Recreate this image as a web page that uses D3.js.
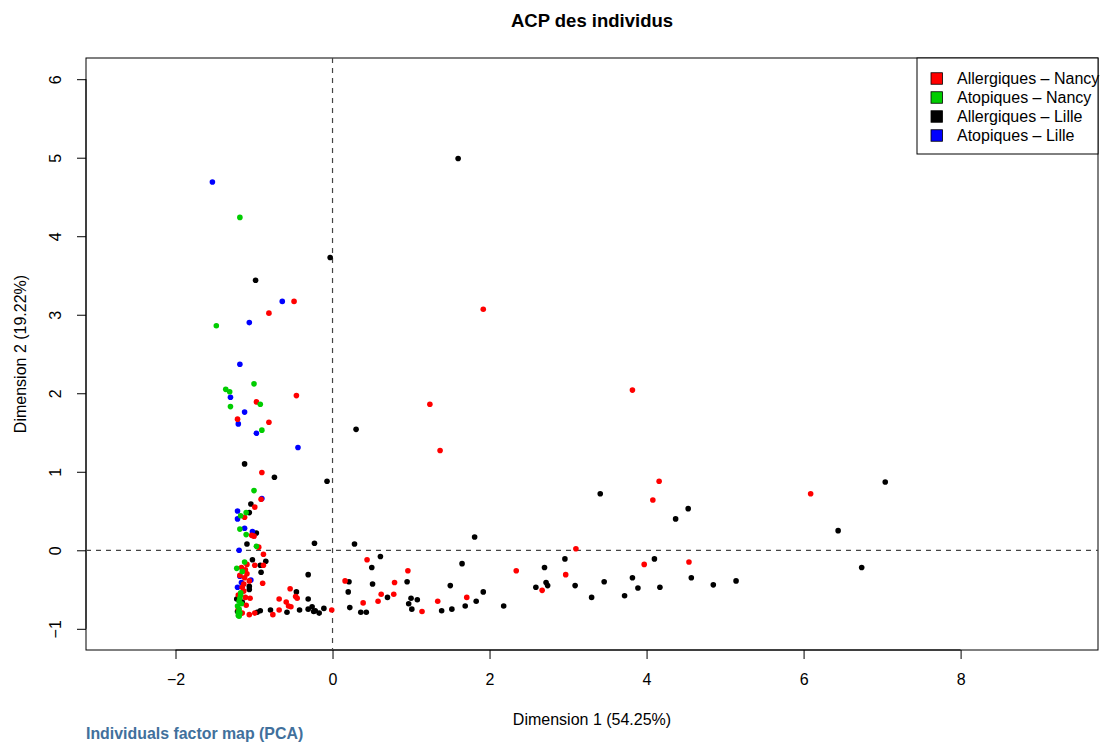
<!DOCTYPE html>
<html>
<head>
<meta charset="utf-8">
<script src="https://cdn.jsdelivr.net/npm/d3@7"></script>
<style>
  body { margin: 0; background: #fff; }
  svg { font-family: "Liberation Sans", Arial, sans-serif; }
</style>
</head>
<body>
<svg></svg>
<script>
// Define variables
const width = 1101;
const height = 744;
const plot = { left: 86, right: 1098, top: 58, bottom: 650 };

// Data: PCA coordinates (Dim 1, Dim 2)
const allergNancy = [
  [-0.49, 3.17], [-0.81, 3.02], [-0.46, 1.97], [-0.97, 1.89], [-1.21, 1.67], [-0.81, 1.63],
  [-0.90, 0.99], [-0.91, 0.65], [-0.99, 0.55], [-1.12, 0.42], [-1.03, 0.19], [-1.00, 0.18],
  [-0.94, 0.04], [-0.88, -0.05], [-1.09, -0.18], [-0.88, -0.19], [-0.99, -0.19], [-1.16, -0.22],
  [-1.11, -0.25], [-1.09, -0.30], [-1.18, -0.32], [-1.12, -0.35], [-1.06, -0.39], [-0.89, -0.42],
  [-1.13, -0.43], [-1.15, -0.47], [-1.13, -0.52], [-0.54, -0.49], [-0.45, -0.61], [-0.47, -0.59],
  [-1.20, -0.57], [-1.11, -0.60], [-1.05, -0.61], [-0.68, -0.62], [-0.59, -0.66], [-0.56, -0.71],
  [-0.53, -0.72], [-1.10, -0.70], [-1.20, -0.75], [-0.68, -0.76], [-1.15, -0.80], [-1.06, -0.82],
  [-0.99, -0.80], [-0.76, -0.82], [-0.01, -0.76],
  [1.92, 3.07], [3.82, 2.04], [1.24, 1.86], [1.37, 1.27], [4.16, 0.88], [4.08, 0.64],
  [6.09, 0.72], [3.97, -0.18], [4.54, -0.15], [3.10, 0.02], [0.44, -0.12], [0.16, -0.39],
  [0.96, -0.26], [0.79, -0.41], [0.62, -0.56], [0.78, -0.56], [0.39, -0.67], [0.58, -0.65],
  [1.14, -0.78], [1.34, -0.65], [1.71, -0.60], [2.34, -0.26], [2.97, -0.31], [2.67, -0.51]
];
const atopNancy = [
  [-1.18, 4.24], [-1.48, 2.86], [-1.00, 2.12], [-1.36, 2.05], [-1.31, 2.02], [-0.92, 1.86],
  [-1.30, 1.83], [-0.90, 1.53], [-1.00, 0.76], [-1.10, 0.48], [-1.17, 0.44], [-1.18, 0.27],
  [-1.10, 0.20], [-0.97, 0.05], [-1.12, -0.15], [-1.22, -0.23], [-1.15, -0.27], [-1.17, -0.54],
  [-1.17, -0.57], [-1.18, -0.61], [-1.19, -0.65], [-1.16, -0.68], [-1.21, -0.71], [-1.19, -0.75],
  [-1.20, -0.79], [-1.18, -0.80], [-1.20, -0.83], [-1.19, -0.84]
];
const allergLille = [
  [-0.03, 3.73], [-0.98, 3.44], [-1.12, 1.10], [-0.74, 0.93], [-0.07, 0.88], [-1.04, 0.59],
  [-1.06, 0.48], [-0.97, 0.22], [-1.09, 0.08], [-0.23, 0.09], [-1.02, -0.12], [-0.85, -0.14],
  [-0.92, -0.19], [-0.91, -0.28], [-0.31, -0.31], [-1.06, -0.46], [-1.06, -0.50], [-0.46, -0.53],
  [-1.22, -0.62], [-0.31, -0.62], [-1.15, -0.66], [-0.92, -0.77], [-0.79, -0.76], [-0.42, -0.76],
  [-0.31, -0.75], [-0.26, -0.72], [-0.22, -0.77], [-0.24, -0.78], [-0.17, -0.80], [-0.11, -0.74],
  [-0.58, -0.79], [-0.96, -0.79], [-1.21, -0.78],
  [1.60, 4.99], [0.30, 1.54], [3.41, 0.72], [4.53, 0.53], [4.37, 0.40], [7.04, 0.87],
  [6.44, 0.25], [6.74, -0.22], [4.10, -0.11], [3.46, -0.40], [3.82, -0.35], [3.89, -0.48],
  [3.72, -0.58], [4.17, -0.47], [4.57, -0.35], [4.85, -0.44], [5.14, -0.39], [0.28, 0.08],
  [1.81, 0.17], [0.61, -0.08], [0.50, -0.22], [0.21, -0.40], [0.20, -0.53], [0.51, -0.43],
  [0.95, -0.40], [0.70, -0.60], [0.22, -0.73], [0.36, -0.79], [0.43, -0.79], [1.00, -0.61],
  [0.97, -0.68], [1.08, -0.63], [1.01, -0.75], [1.65, -0.17], [1.50, -0.45], [1.92, -0.53],
  [1.39, -0.77], [1.52, -0.75], [1.69, -0.71], [1.83, -0.65], [2.18, -0.71], [2.70, -0.22],
  [2.96, -0.11], [2.59, -0.47], [2.72, -0.41], [2.74, -0.45], [3.09, -0.45], [3.30, -0.60]
];
const atopLille = [
  [-1.53, 4.69], [-0.64, 3.17], [-1.06, 2.90], [-1.18, 2.37], [-1.30, 1.95], [-1.12, 1.76],
  [-1.20, 1.61], [-0.97, 1.49], [-0.44, 1.31], [-0.90, 0.66], [-1.21, 0.50], [-1.21, 0.40],
  [-1.12, 0.28], [-1.02, 0.24], [-1.19, 0.00], [-1.18, -0.33], [-1.04, -0.38], [-1.16, -0.41],
  [-1.21, -0.47]
];

const groupNames = ['Allergiques – Nancy', 'Atopiques – Nancy', 'Allergiques – Lille', 'Atopiques – Lille'];
const groupColors = ['#ff0000', '#00cd00', '#000000', '#0000ff'];
const groupData = [allergNancy, atopNancy, allergLille, atopLille];
const drawOrder = [2, 3, 0, 1];

const xTicks = [-2, 0, 2, 4, 6, 8];
const yTicks = [-1, 0, 1, 2, 3, 4, 5, 6];
const xDomain = [-3.14, 9.75];
const yDomain = [-1.27, 6.27];

const svg = d3.select('svg')
    .attr('width', width)
    .attr('height', height);

// Scales
const xScale = d3.scaleLinear().domain(xDomain).range([plot.left, plot.right]);
const yScale = d3.scaleLinear().domain(yDomain).range([plot.bottom, plot.top]);

// Axes
const xAxis = d3.axisBottom(xScale)
    .tickValues(xTicks)
    .tickSize(9)
    .tickPadding(14.5)
    .tickFormat(d => d < 0 ? '−' + Math.abs(d) : d);
const gx = svg.append('g')
    .attr('transform', 'translate(0,' + plot.bottom + ')')
    .call(xAxis);
gx.select('.domain')
    .attr('d', 'M' + xScale(xTicks[0]) + ',0H' + xScale(xTicks[xTicks.length - 1]));

const yAxis = d3.axisLeft(yScale)
    .tickValues(yTicks)
    .tickSize(9)
    .tickFormat(d => d < 0 ? '−' + Math.abs(d) : d);
const gy = svg.append('g')
    .attr('transform', 'translate(' + plot.left + ',0)')
    .call(yAxis);
gy.select('.domain')
    .attr('d', 'M0,' + yScale(yTicks[0]) + 'V' + yScale(yTicks[yTicks.length - 1]));
gy.selectAll('.tick text')
    .attr('x', null).attr('dy', null)
    .attr('text-anchor', 'middle')
    .attr('transform', 'translate(-25,0) rotate(-90)');

svg.selectAll('.tick text')
    .attr('font-size', 16)
    .attr('font-family', '"Liberation Sans", Arial, sans-serif')
    .attr('fill', '#000');
svg.selectAll('.tick line, .domain').attr('stroke', '#000');

// Plot box
svg.append('rect')
    .attr('x', plot.left).attr('y', plot.top)
    .attr('width', plot.right - plot.left).attr('height', plot.bottom - plot.top)
    .attr('fill', 'none').attr('stroke', '#000').attr('stroke-width', 1);

// Reference lines
svg.append('line')
    .attr('x1', xScale(0)).attr('x2', xScale(0))
    .attr('y1', plot.top).attr('y2', plot.bottom)
    .attr('stroke', '#444').attr('stroke-width', 1.2).attr('stroke-dasharray', '5,5');
svg.append('line')
    .attr('x1', plot.left).attr('x2', plot.right)
    .attr('y1', yScale(0)).attr('y2', yScale(0))
    .attr('stroke', '#444').attr('stroke-width', 1.2).attr('stroke-dasharray', '5,5');

// Points
drawOrder.forEach(g => {
    svg.append('g').selectAll('circle')
        .data(groupData[g])
        .enter()
        .append('circle')
        .attr('cx', d => xScale(d[0]))
        .attr('cy', d => yScale(d[1]))
        .attr('r', 2.8)
        .attr('fill', groupColors[g]);
});

// Legend
const legend = svg.append('g');
legend.append('rect')
    .attr('x', 917).attr('y', plot.top)
    .attr('width', plot.right - 917).attr('height', 96)
    .attr('fill', '#fff').attr('stroke', '#000');
groupNames.forEach((name, i) => {
    const cy = 78.5 + i * 19;
    legend.append('rect')
        .attr('x', 931).attr('y', cy - 5.75)
        .attr('width', 11.5).attr('height', 11.5)
        .attr('fill', groupColors[i]).attr('stroke', '#000').attr('stroke-width', 0.8);
    legend.append('text')
        .attr('x', 957).attr('y', cy + 5.7)
        .attr('font-size', 16)
        .text(name);
});

// Titles
svg.append('text')
    .attr('x', (plot.left + plot.right) / 2).attr('y', 26.5)
    .attr('text-anchor', 'middle')
    .attr('font-size', 18.5).attr('font-weight', 'bold')
    .text('ACP des individus');
svg.append('text')
    .attr('x', (plot.left + plot.right) / 2).attr('y', 725)
    .attr('text-anchor', 'middle')
    .attr('font-size', 16)
    .text('Dimension 1 (54.25%)');
svg.append('text')
    .attr('transform', 'translate(26,' + (plot.top + plot.bottom) / 2 + ') rotate(-90)')
    .attr('text-anchor', 'middle')
    .attr('font-size', 16)
    .text('Dimension 2 (19.22%)');
svg.append('text')
    .attr('x', plot.left).attr('y', 739)
    .attr('font-size', 15.9).attr('font-weight', 'bold')
    .attr('fill', '#41709c')
    .text('Individuals factor map (PCA)');
</script>
</body>
</html>
